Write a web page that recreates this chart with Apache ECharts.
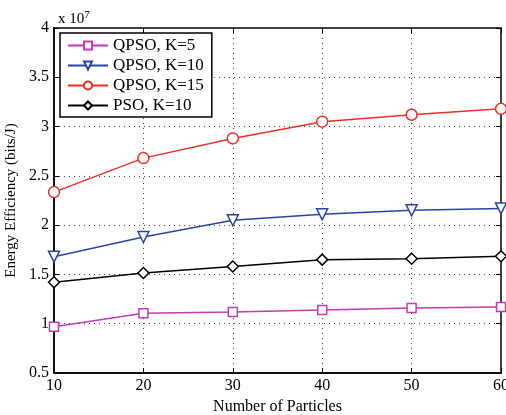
<!DOCTYPE html>
<html>
<head>
<meta charset="utf-8">
<script src="https://cdn.jsdelivr.net/npm/echarts@6/dist/echarts.min.js"></script>
<style>
html, body { margin: 0; padding: 0; background: #fff; }
#chart { width: 506px; height: 415px; }
</style>
</head>
<body>
<div id="chart"></div>
<script>
// number of particles
var particles = [10, 20, 30, 40, 50, 60];

// energy efficiency, in units of 1e7 bits/J
var qpsoK5 = [0.97, 1.105, 1.12, 1.14, 1.16, 1.17];
var qpsoK10 = [1.68, 1.88, 2.05, 2.11, 2.15, 2.17];
var qpsoK15 = [2.335, 2.68, 2.88, 3.05, 3.12, 3.18];
var psoK10 = [1.42, 1.515, 1.58, 1.65, 1.66, 1.685];

var font = 'Liberation Serif';

function pairs(vals) {
	return particles.map(function (x, i) { return [x, vals[i]]; });
}

function line(name, vals, color, symbol, rotate, size) {
	return {
		name: name,
		type: 'line',
		data: pairs(vals),
		symbol: symbol,
		symbolSize: size,
		symbolRotate: rotate,
		lineStyle: { color: color, width: 1.5 },
		itemStyle: { color: '#fff', borderColor: color, borderWidth: 1.5 },
		emphasis: { disabled: true },
		z: 3
	};
}

var chart = echarts.init(document.getElementById('chart'));

chart.setOption({
	animation: false,
	grid: {
		left: 54, right: 5, top: 28, bottom: 42,
		outerBoundsMode: 'none',
		show: true, borderColor: '#000', borderWidth: 1.5
	},
	title: {
		text: 'x 10{s|7}',
		left: 53, top: 5,
		textStyle: {
			fontFamily: font, fontSize: 15, fontWeight: 'normal', color: '#000',
			rich: { s: { fontFamily: font, fontSize: 11, verticalAlign: 'top', padding: [0, 0, 8, 0] } }
		}
	},
	legend: {
		orient: 'vertical',
		left: 60, top: 33,
		itemWidth: 40, itemHeight: 10, itemGap: 3,
		backgroundColor: '#fff', borderColor: '#000', borderWidth: 1.5,
		padding: [4, 8, 3, 7],
		textStyle: { fontFamily: font, fontSize: 17, color: '#000' },
		data: ['QPSO, K=5', 'QPSO, K=10', 'QPSO, K=15', 'PSO, K=10']
	},
	xAxis: [{
		type: 'value', min: 10, max: 60, interval: 10,
		name: 'Number of Particles', nameLocation: 'middle', nameGap: 26,
		nameTextStyle: { fontFamily: font, fontSize: 16, color: '#000' },
		axisLine: { lineStyle: { color: '#000', width: 1.5 } },
		axisTick: { inside: true, length: 5, lineStyle: { color: '#000' } },
		axisLabel: { fontFamily: font, fontSize: 16, color: '#000', margin: 5 },
		splitLine: { show: true, lineStyle: { color: '#444', type: [1, 4], width: 1 } }
	}, {
		type: 'value', min: 10, max: 60, interval: 10, position: 'top',
		axisLine: { show: false },
		axisTick: { inside: true, length: 5, lineStyle: { color: '#000' } },
		axisLabel: { show: false },
		splitLine: { show: false }
	}],
	yAxis: [{
		type: 'value', min: 0.5, max: 4, interval: 0.5,
		name: 'Energy Efficiency (bits/J)', nameLocation: 'middle', nameGap: 34,
		nameTextStyle: { fontFamily: font, fontSize: 15, color: '#000' },
		axisLine: { show: true, lineStyle: { color: '#000', width: 1.5 } },
		axisTick: { show: true, inside: true, length: 5, lineStyle: { color: '#000' } },
		axisLabel: { fontFamily: font, fontSize: 16, color: '#000', margin: 5 },
		splitLine: { show: true, lineStyle: { color: '#444', type: [1, 4], width: 1 } }
	}, {
		type: 'value', min: 0.5, max: 4, interval: 0.5, position: 'right',
		axisLine: { show: false },
		axisTick: { show: true, inside: true, length: 5, lineStyle: { color: '#000' } },
		axisLabel: { show: false },
		splitLine: { show: false }
	}],
	series: [
		line('QPSO, K=5', qpsoK5, '#c03cb4', 'rect', 0, 9),
		line('QPSO, K=10', qpsoK10, '#2a44a4', 'triangle', 180, 11),
		line('QPSO, K=15', qpsoK15, '#e8302a', 'circle', 0, 11),
		line('PSO, K=10', psoK10, '#000', 'diamond', 0, 11)
	]
});
</script>
</body>
</html>
